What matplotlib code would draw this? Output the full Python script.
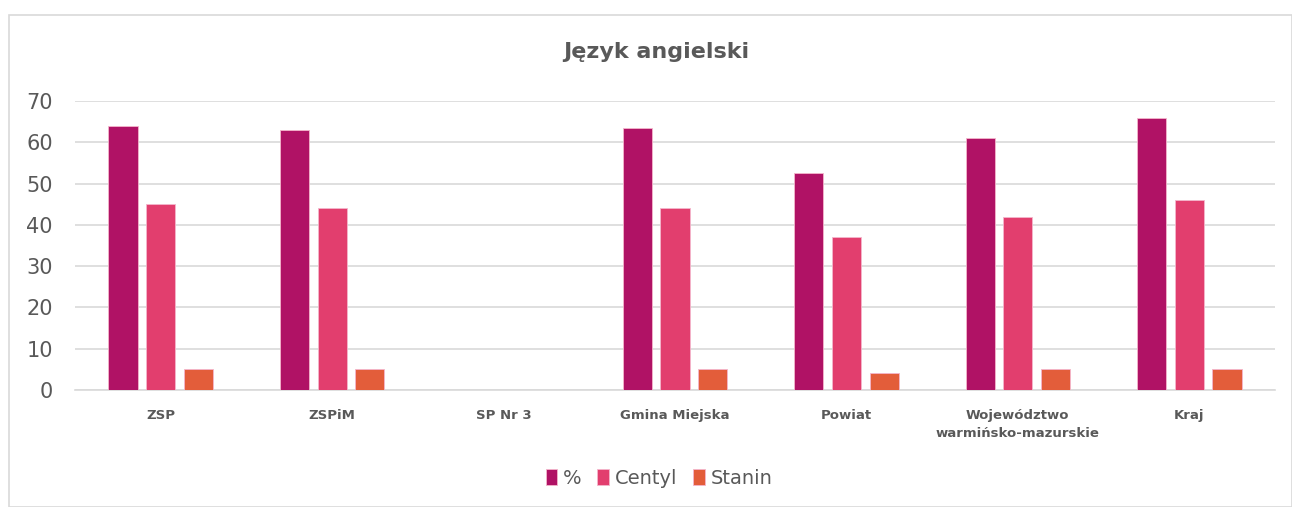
import numpy as np
import matplotlib.pyplot as plt
from matplotlib.patches import Rectangle

# ===================== DANE =====================
kategorie = ['ZSP', 'ZSPiM', 'SP Nr 3', 'Gmina Miejska', 'Powiat',
             'Województwo\nwarmińsko-mazurskie', 'Kraj']
procent = [64, 63, np.nan, 63.5, 52.5, 61, 66]
centyl = [45, 44, np.nan, 44, 37, 42, 46]
stanin = [5, 5, np.nan, 5, 4, 5, 5]

serie = ['%', 'Centyl', 'Stanin']
kolory = ['#B01265', '#E23E6E', '#E35D3A']

# ===================== WYKRES =====================
plt.rcParams['font.family'] = ['DejaVu Sans']
szary = '#595959'

fig = plt.figure(figsize=(12.92, 5.07), dpi=100)
fig.patches.append(Rectangle((9 / 1292, 0), 1 - 9 / 1292, 1 - 15 / 507,
                             transform=fig.transFigure, fill=False,
                             edgecolor='#D9D9D9', linewidth=1.2))
ax = fig.add_axes([75 / 1292, 1 - 390 / 507, 1200 / 1292, 289 / 507])

x = np.arange(len(kategorie))
szer = 0.17
krok = 0.22
for i, (dane, nazwa, kol) in enumerate(zip([procent, centyl, stanin], serie, kolory)):
    ax.bar(x + (i - 1) * krok, dane, szer, color=kol, label=nazwa,
           edgecolor='#F4B6CC', linewidth=0.6, zorder=3)

ax.set_xlim(-0.5, len(kategorie) - 0.5)
ax.set_ylim(0, 70)
ax.set_yticks(range(0, 71, 10))
ax.yaxis.grid(True, color='#D9D9D9', linewidth=1.2, zorder=0)
ax.set_axisbelow(True)
for s in ['top', 'right', 'left']:
    ax.spines[s].set_visible(False)
ax.spines['bottom'].set_color('#D9D9D9')
ax.spines['bottom'].set_linewidth(1.2)
ax.tick_params(axis='both', length=0)
ax.tick_params(axis='y', labelsize=15, labelcolor=szary, pad=16)
ax.set_xticks(x)
ax.set_xticklabels(kategorie, fontsize=9.5, fontweight='bold', color=szary,
                   linespacing=1.5)
ax.tick_params(axis='x', pad=14)

fig.text(0.508, 1 - 52 / 507, 'Język angielski', ha='center', va='center',
         fontsize=16, fontweight='bold', color=szary)

fig.legend(loc='center', bbox_to_anchor=(0.51, 1 - 478 / 507), ncol=3,
           frameon=False, fontsize=14, labelcolor=szary, handlelength=0.6,
           handleheight=0.9, handletextpad=0.3, columnspacing=0.8)

plt.savefig('out.png', dpi=100)
plt.close()
